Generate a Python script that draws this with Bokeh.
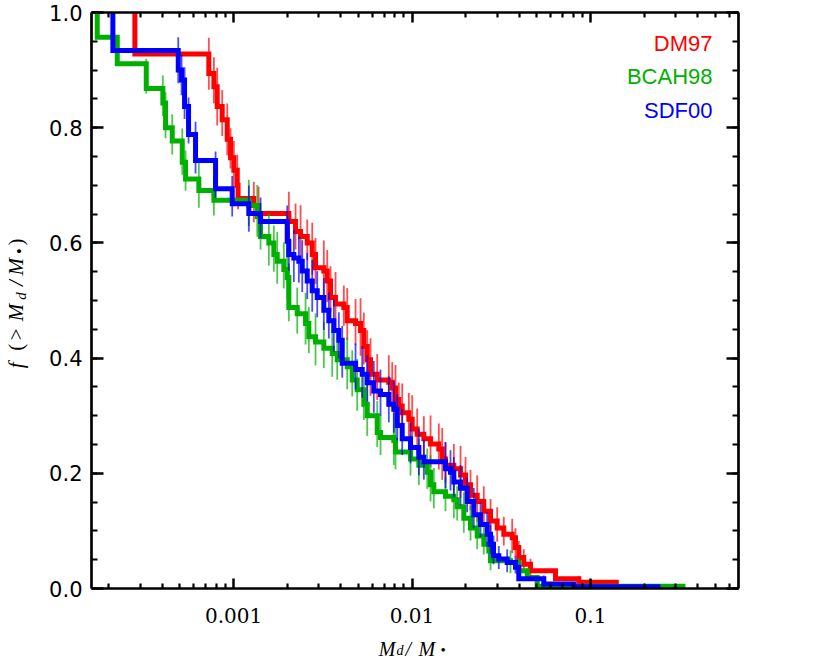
import math
from bokeh.plotting import figure
from bokeh.layouts import row, column
from bokeh.models import (FixedTicker, LogAxis, LinearAxis, Label, Range1d,
                          CustomJSTickFormatter, PrintfTickFormatter)
from bokeh.embed import file_html
from bokeh.resources import INLINE

# ---------------- data ----------------
# cumulative fraction f(>Md/M*) as step curves; first point is the start at f=1
dm97_x = [2.80e-4, 2.80e-4, 7.27e-4, 7.76e-4, 8.10e-4, 8.64e-4, 9.22e-4, 9.62e-4, 1.004e-3, 1.049e-3,
          1.060e-3, 1.299e-3, 1.381e-3, 2.041e-3, 2.225e-3, 2.374e-3, 2.588e-3, 2.760e-3, 2.880e-3, 3.205e-3,
          3.349e-3, 3.495e-3, 3.728e-3, 4.149e-3, 4.335e-3, 4.826e-3, 5.147e-3, 5.370e-3, 5.611e-3, 5.855e-3,
          6.383e-3, 7.413e-3, 7.746e-3, 8.083e-3, 8.435e-3, 8.812e-3, 9.596e-3, 1.0025e-2, 1.069e-2, 1.165e-2,
          1.270e-2, 1.413e-2, 1.476e-2, 1.540e-2, 1.715e-2, 1.870e-2, 1.994e-2, 2.127e-2, 2.319e-2, 2.525e-2,
          2.754e-2, 3.001e-2, 3.268e-2, 3.642e-2, 3.800e-2, 3.966e-2, 4.230e-2, 4.612e-2, 6.367e-2, 8.603e-2,
          0.1441]
dm97_f = [1.0, 0.928, 0.894, 0.871, 0.837, 0.814, 0.780, 0.748, 0.726, 0.700,
          0.677, 0.665, 0.651, 0.637, 0.620, 0.611, 0.600, 0.580, 0.557, 0.551,
          0.534, 0.505, 0.494, 0.488, 0.465, 0.460, 0.448, 0.420, 0.397, 0.372,
          0.362, 0.358, 0.348, 0.328, 0.317, 0.305, 0.294, 0.277, 0.268, 0.260,
          0.251, 0.242, 0.225, 0.214, 0.208, 0.197, 0.180, 0.162, 0.151, 0.134,
          0.117, 0.105, 0.094, 0.088, 0.071, 0.054, 0.042, 0.031, 0.017, 0.011,
          0.011]
dm97_err = [0.02,
            0.045, 0.04, 0.05, 0.04, 0.045, 0.035, 0.04, 0.04,
            0.03,
            0.035, 0.04, 0.045, 0.04, 0.05, 0.035, 0.045, 0.04, 0.05, 0.045,
            0.04, 0.05, 0.035, 0.045, 0.04, 0.05, 0.045, 0.04, 0.05, 0.04,
            0.045, 0.04, 0.05, 0.035, 0.045, 0.04, 0.05, 0.04, 0.035, 0.045,
            0.04, 0.045, 0.035, 0.04, 0.045, 0.04, 0.035, 0.04, 0.035, 0.03,
            0.03, 0.025, 0.03, 0.025, 0.02, 0.02, 0.015, 0.01, 0.008]

bcah98_x = [1.723e-4, 1.723e-4, 2.231e-4, 3.243e-4, 4.017e-4, 4.159e-4, 4.535e-4, 5.160e-4, 5.385e-4, 6.392e-4,
            7.76e-4, 1.218e-3, 1.358e-3, 1.417e-3, 1.577e-3, 1.682e-3, 1.757e-3, 1.913e-3, 1.999e-3, 2.041e-3,
            2.275e-3, 2.532e-3, 2.642e-3, 2.880e-3, 3.205e-3, 3.572e-3, 3.811e-3, 4.335e-3, 4.624e-3, 4.932e-3,
            5.370e-3, 5.611e-3, 6.383e-3, 6.661e-3, 7.907e-3, 8.083e-3, 9.808e-3, 1.092e-2, 1.217e-2, 1.270e-2,
            1.325e-2, 1.540e-2, 1.715e-2, 1.791e-2, 1.951e-2, 2.127e-2, 2.319e-2, 2.525e-2, 2.694e-2, 2.754e-2,
            3.563e-2, 3.966e-2, 4.420e-2, 5.027e-2, 0.3405]
bcah98_f = [1.0, 0.957, 0.911, 0.868, 0.843, 0.800, 0.777, 0.740, 0.711, 0.691,
            0.674, 0.665, 0.646, 0.611, 0.600, 0.580, 0.568, 0.554, 0.540, 0.488,
            0.477, 0.460, 0.437, 0.428, 0.417, 0.408, 0.397, 0.385, 0.362, 0.345,
            0.320, 0.300, 0.271, 0.262, 0.257, 0.237, 0.225, 0.214, 0.202, 0.180,
            0.168, 0.160, 0.154, 0.142, 0.122, 0.105, 0.091, 0.077, 0.065, 0.048,
            0.045, 0.031, 0.019, 0.004, 0.004]
bcah98_err = [0.015,
              0.02, 0.03, 0.035, 0.04, 0.035, 0.04, 0.035, 0.04,
              0.035, 0.04, 0.045, 0.04, 0.045, 0.04, 0.045, 0.04, 0.045, 0.05,
              0.04, 0.045, 0.04, 0.045, 0.04, 0.045, 0.04, 0.045, 0.04, 0.045,
              0.04, 0.045, 0.04, 0.035, 0.045, 0.04, 0.035, 0.04, 0.035, 0.04,
              0.035, 0.03, 0.035, 0.03, 0.035, 0.03, 0.03, 0.025, 0.025, 0.025,
              0.02, 0.015, 0.01, 0.008]

sdf00_x = [2.108e-4, 2.108e-4, 4.900e-4, 5.113e-4, 5.315e-4, 5.597e-4, 6.125e-4, 7.93e-4, 9.83e-4, 1.218e-3,
           1.417e-3, 1.999e-3, 2.041e-3, 2.177e-3, 2.322e-3, 2.426e-3, 2.588e-3, 2.760e-3, 2.944e-3, 3.205e-3,
           3.420e-3, 3.647e-3, 3.890e-3, 4.064e-3, 4.826e-3, 5.260e-3, 5.611e-3, 6.109e-3, 6.661e-3, 7.413e-3,
           7.907e-3, 8.262e-3, 8.812e-3, 9.808e-3, 1.092e-2, 1.165e-2, 1.540e-2, 1.643e-2, 1.715e-2, 1.870e-2,
           2.038e-2, 2.219e-2, 2.420e-2, 2.638e-2, 2.754e-2, 2.861e-2, 3.064e-2, 3.414e-2, 3.800e-2, 3.966e-2,
           5.474e-2, 8.061e-2, 0.2467]
sdf00_f = [1.0, 0.934, 0.900, 0.883, 0.837, 0.788, 0.743, 0.694, 0.668, 0.651,
           0.637, 0.603, 0.580, 0.574, 0.568, 0.551, 0.534, 0.517, 0.505, 0.483,
           0.465, 0.448, 0.431, 0.391, 0.380, 0.372, 0.357, 0.343, 0.337, 0.320,
           0.311, 0.283, 0.260, 0.245, 0.228, 0.220, 0.208, 0.202, 0.185, 0.174,
           0.151, 0.128, 0.111, 0.094, 0.077, 0.057, 0.051, 0.045, 0.037, 0.017,
           0.008, 0.003, 0.003]
sdf00_err = [0.015,
             0.04, 0.035, 0.045, 0.04, 0.045, 0.04, 0.035, 0.04,
             0.035, 0.045, 0.04, 0.045, 0.04, 0.045, 0.04, 0.045, 0.04, 0.045,
             0.04, 0.045, 0.04, 0.045, 0.04, 0.045, 0.04, 0.045, 0.04, 0.04,
             0.045, 0.04, 0.04, 0.035, 0.04, 0.035, 0.04, 0.035, 0.035, 0.035,
             0.03, 0.035, 0.03, 0.03, 0.025, 0.025, 0.02, 0.02, 0.015, 0.012,
             0.01, 0.006]

series_names = ["DM97", "BCAH98", "SDF00"]
series_colors = ["#ff0000", "#00b000", "#0000ff"]

x_major_ticks = [0.001, 0.01, 0.1]
x_minor_ticks = [m * d for d in (1e-4, 1e-3, 1e-2, 1e-1) for m in range(2, 10)]
y_major_ticks = [0.0, 0.2, 0.4, 0.6, 0.8, 1.0]
y_minor_ticks = [k / 20 for k in range(21)]

# ---------------- main figure ----------------
p = figure(width=724, height=630, x_axis_type="log",
           x_range=(1.6e-4, 0.675), y_range=(0.0, 1.0),
           output_backend="svg", toolbar_location=None,
           min_border_left=55, min_border_right=22,
           min_border_top=12, min_border_bottom=42)
p.xgrid.visible = False
p.ygrid.visible = False
p.outline_line_color = None
p.background_fill_color = "white"
p.border_fill_color = "white"

xt = FixedTicker(ticks=x_major_ticks, minor_ticks=x_minor_ticks)
yt = FixedTicker(ticks=y_major_ticks, minor_ticks=y_minor_ticks)


def style_axis(ax, maj, mnr):
    ax.axis_line_width = 2.7
    ax.axis_line_color = "black"
    ax.major_tick_in = maj
    ax.major_tick_out = 0
    ax.minor_tick_in = mnr
    ax.minor_tick_out = 0
    ax.major_tick_line_width = 2.5
    ax.minor_tick_line_width = 2.2
    ax.major_tick_line_color = "black"
    ax.minor_tick_line_color = "black"


xa = p.xaxis[0]
xa.ticker = xt
xa.formatter = CustomJSTickFormatter(code="return tick.toString();")
style_axis(xa, 10, 5)
xa.major_label_text_font = "DejaVu Serif"
xa.major_label_text_font_size = "20px"
xa.major_label_text_color = "black"
xa.major_label_standoff = 19

ya = p.yaxis[0]
ya.ticker = yt
ya.formatter = PrintfTickFormatter(format="%.1f")
style_axis(ya, 12, 6)
ya.major_label_text_font = "DejaVu Sans"
ya.major_label_text_font_size = "21px"
ya.major_label_text_color = "black"
ya.major_label_standoff = 9

top = LogAxis(ticker=xt, formatter=CustomJSTickFormatter(code="return '';"),
              major_label_text_font_size="0px", major_label_standoff=0)
style_axis(top, 10, 5)
p.add_layout(top, "above")

right = LinearAxis(ticker=yt, formatter=CustomJSTickFormatter(code="return '';"),
                   major_label_text_font_size="0px", major_label_standoff=0)
style_axis(right, 12, 6)
p.add_layout(right, "right")

# ---------------- curves ----------------
all_series = [(dm97_x, dm97_f, dm97_err), (bcah98_x, bcah98_f, bcah98_err), (sdf00_x, sdf00_f, sdf00_err)]
for (xs, fs, errs), color in zip(all_series, series_colors):
    bx, b0, b1 = [], [], []
    for i in range(1, len(xs) - 1):
        mid = 0.5 * (fs[i - 1] + fs[i])
        e = errs[i - 1]
        bx.append(xs[i])
        b0.append(mid - e)
        b1.append(mid + e)
    p.segment(x0=bx, y0=b0, x1=bx, y1=b1, line_color=color, line_width=1.8,
              line_alpha=0.7, line_cap="butt")
    p.step(xs, fs, mode="after", line_color=color, line_width=5, line_join="miter")

# ---------------- legend texts ----------------
for name, color, yy in zip(series_names, series_colors, [545, 512, 478]):
    p.add_layout(Label(x=621, y=yy, x_units="screen", y_units="screen", text=name,
                       text_font="Liberation Sans", text_font_size="22px",
                       text_color=color, text_align="right", text_baseline="middle"))


def lab(fig, text, x, y, size, style="normal", angle=0.0, align="left",
        baseline="alphabetic", font="Liberation Serif"):
    fig.add_layout(Label(x=x, y=y, text=text,
                         text_font=font, text_font_size=f"{size}px", text_font_style=style,
                         angle=angle, text_align=align, text_baseline=baseline,
                         text_color="black"))


def text_strip(w, h, top_px):
    f = figure(width=w, height=h, x_range=Range1d(0, w), y_range=Range1d(top_px + h, top_px),
               x_axis_location=None, y_axis_location=None, min_border=0,
               output_backend="svg", toolbar_location=None)
    f.xgrid.visible = False
    f.ygrid.visible = False
    f.outline_line_color = None
    f.background_fill_color = "white"
    f.border_fill_color = "white"
    return f


# y-axis title  f (> M_d / M_*)  (coordinates in page pixels, centre-anchored pieces)
yfig = text_strip(36, 630, 0)
A = math.pi / 2
ytitle_parts = [("f", 15, 386, 21, "italic"), ("(", 15, 366, 21, "normal"),
                (">", 15, 352, 21, "normal"), ("M", 15, 328, 21, "italic"),
                ("d", 20, 310, 15, "italic"), ("/", 15, 296, 21, "italic"),
                ("M", 15, 278, 21, "italic"), ("\u2022", 19, 261, 16, "normal"),
                (")", 15, 251, 21, "normal")]
for t, x, y, s, st in ytitle_parts:
    lab(yfig, t, x, y, s, st, A, "center", "middle")

# x-axis title  M_d / M_*
xfig = text_strip(760, 28, 630)
lab(xfig, "M", 378.3, 648, 20, "italic")
lab(xfig, "d", 396, 650, 14, "italic")
lab(xfig, "/", 405, 648, 20, "italic")
lab(xfig, "M", 418, 648, 20, "italic")
lab(xfig, "\u2022", 440, 649, 15)

layout = column(row(yfig, p), xfig)
open("out.html", "w").write(file_html(layout, INLINE))
